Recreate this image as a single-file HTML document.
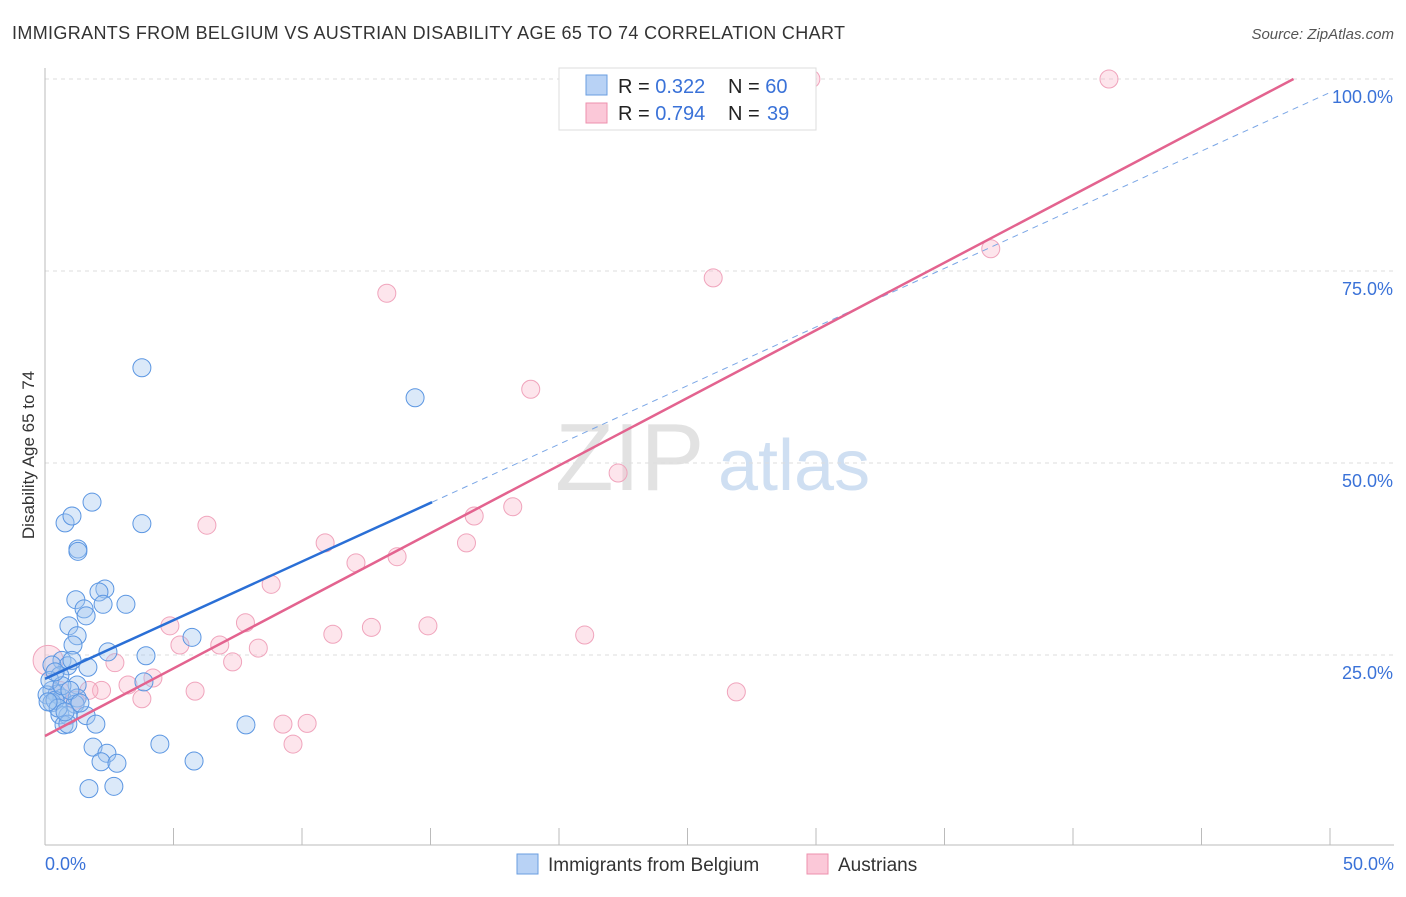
<!DOCTYPE html>
<html><head><meta charset="utf-8"><style>
body{margin:0;background:#fff;font-family:"Liberation Sans",sans-serif;}
svg text{font-family:"Liberation Sans",sans-serif;}
</style></head><body>
<svg width="1406" height="892" id="chart">
<text x="12" y="39" font-size="18" fill="#333" textLength="833">IMMIGRANTS FROM BELGIUM VS AUSTRIAN DISABILITY AGE 65 TO 74 CORRELATION CHART</text>
<text x="1394" y="39" font-size="15" fill="#555" font-style="italic" text-anchor="end">Source: ZipAtlas.com</text>
<text transform="translate(34,455) rotate(-90)" font-size="17" fill="#333" text-anchor="middle">Disability Age 65 to 74</text>
<text x="555" y="490" font-size="96" fill="#e2e2e2" font-family="Liberation Serif">ZIP</text>
<text x="718" y="490" font-size="72" fill="#cfdff2">atlas</text>
<g id="grid"></g><g id="pts"></g><g id="lines"></g>
<g>
<rect x="559" y="68" width="257" height="62" fill="#fff" stroke="#ddd"/>
<rect x="586" y="75" width="21" height="20" fill="#b8d2f5" stroke="#6a9ee0"/>
<rect x="586" y="103" width="21" height="20" fill="#fbc8d8" stroke="#ee90ae"/>
<text x="618" y="93" font-size="20" fill="#222">R = <tspan fill="#3a72d8">0.322</tspan></text>
<text x="728" y="93" font-size="20" fill="#222">N = <tspan fill="#3a72d8">60</tspan></text>
<text x="618" y="120" font-size="20" fill="#222">R = <tspan fill="#3a72d8">0.794</tspan></text>
<text x="728" y="120" font-size="20" fill="#222">N = <tspan fill="#3a72d8" x="767">39</tspan></text>
</g>
<g>
<rect x="517" y="854" width="21" height="20" fill="#b8d2f5" stroke="#6a9ee0"/>
<text x="548" y="871" font-size="19" fill="#333">Immigrants from Belgium</text>
<rect x="807" y="854" width="21" height="20" fill="#fbc8d8" stroke="#ee90ae"/>
<text x="838" y="871" font-size="19" fill="#333">Austrians</text>
</g>
</svg>
<script>
const yTicks=[25,50,75,100];
const yTickLabels=["25.0%","50.0%","75.0%","100.0%"];
const xTickCount=10;
const xTickLabels=["0.0%","50.0%"];
const blueX=[3.77,14.4,1.83,0.78,1.05,3.77,1.28,1.28,2.33,2.1,1.2,2.26,3.15,1.52,1.6,0.93,1.25,5.72,1.09,2.45,3.93,0.66,0.89,1.67,0.27,3.85,1.25,0.58,0.27,0.47,0.08,0.66,1.25,0.27,1.17,0.58,0.89,1.6,1.98,0.74,0.89,7.82,4.47,1.87,2.41,2.18,2.8,5.8,1.71,2.68,0.39,0.19,0.66,0.97,0.51,1.36,0.78,0.12,1.05,0.39];
const blueY=[62.4,58.5,44.9,42.2,43.1,42.1,38.8,38.5,33.6,33.2,32.2,31.6,31.6,31.0,30.1,28.8,27.5,27.3,26.3,25.4,24.9,24.3,23.6,23.4,23.7,21.5,21.1,22.3,20.4,19.9,19.8,19.4,19.4,18.8,18.6,17.2,17.1,17.1,16.0,15.9,16.0,15.9,13.4,13.0,12.2,11.1,10.9,11.2,7.6,7.9,19.1,21.7,21.0,20.4,18.1,18.75,17.6,18.9,24.3,22.8];
const pinkX=[29.8,41.4,36.8,26.0,13.3,18.9,22.3,18.2,16.7,6.3,16.4,10.9,13.7,12.1,8.8,7.8,4.86,11.2,12.7,14.9,21.0,5.25,6.8,8.3,2.72,7.3,4.2,3.23,2.2,1.71,5.84,3.77,26.9,9.26,10.2,9.65,0.12,1.17,0.58];
const pinkY=[100,100,77.9,74.1,72.1,59.6,48.7,44.3,43.1,41.9,39.6,39.6,37.8,37.0,34.2,29.2,28.8,27.7,28.6,28.8,27.6,26.3,26.3,25.9,24.0,24.1,22.0,21.1,20.4,20.4,20.3,19.3,20.2,16.0,16.1,13.4,24.3,19.1,20.4];
const blueTrend=[21.9,1.527], blueSolidEnd=15.06;
const pinkTrend=[14.45,1.761];
const NS="http://www.w3.org/2000/svg";
const X=v=>45+v/50*1285, Y=v=>847-v*7.68;
function mk(t,a,parent){const e=document.createElementNS(NS,t);for(const k in a)e.setAttribute(k,a[k]);document.getElementById(parent).appendChild(e);return e;}
yTicks.forEach((t,i)=>{
 const l=mk('line',{x1:45,x2:1394,y1:Y(t),y2:Y(t),stroke:'#ddd','stroke-dasharray':'4,4'},'grid');
 
 
 const tx=mk('text',{x:1393,y:Y(t)+24,'font-size':18,fill:'#3a72d8','text-anchor':'end'},'grid');
 tx.textContent=yTickLabels[i];
 
 
});
const ax=mk('line',{x1:45,x2:45,y1:68,y2:845,stroke:'#bbb'},'grid');


const bx=mk('line',{x1:45,x2:1394,y1:845,y2:845,stroke:'#bbb'},'grid');


for(let i=0;i<=xTickCount;i++){
 const tk=mk('line',{x1:X(i*50/xTickCount),x2:X(i*50/xTickCount),y1:828,y2:845,stroke:'#bbb'},'grid');
 
 
}
[[X(0),'start'],[1394,'end']].forEach((p,i)=>{
 const t=mk('text',{x:p[0],y:870,'font-size':18,fill:'#3a72d8','text-anchor':p[1]},'grid');
 t.textContent=xTickLabels[i];
 
 
});
pinkX.forEach((x,i)=>{
 const c=mk('circle',{cx:X(x),cy:Y(pinkY[i]),r:i==36?15:9,fill:'rgba(248,180,200,0.35)',stroke:'#f0a4bc','stroke-width':1},'pts');
 
 
});
blueX.forEach((x,i)=>{
 const c=mk('circle',{cx:X(x),cy:Y(blueY[i]),r:9,fill:'rgba(160,196,240,0.38)',stroke:'#5b96e2','stroke-width':1},'pts');
 
 
});
const bl=mk('line',{x1:X(0),y1:Y(blueTrend[0]),x2:X(blueSolidEnd),y2:Y(blueTrend[0]+blueTrend[1]*blueSolidEnd),stroke:'#2a6fd6','stroke-width':2.5},'lines');


const xEnd=(100-blueTrend[0])/blueTrend[1];
const bd=mk('line',{x1:X(blueSolidEnd),y1:Y(blueTrend[0]+blueTrend[1]*blueSolidEnd),x2:X(Math.min(xEnd,50)),y2:Y(blueTrend[0]+blueTrend[1]*Math.min(xEnd,50)),stroke:'#7aa6e6','stroke-width':1,'stroke-dasharray':'6,5'},'lines');


const pEnd=Math.min(50,(100-pinkTrend[0])/pinkTrend[1]);
const pl=mk('line',{x1:X(0),y1:Y(pinkTrend[0]),x2:X(pEnd),y2:Y(pinkTrend[0]+pinkTrend[1]*pEnd),stroke:'#e3638f','stroke-width':2.5},'lines');


</script>
</body></html>
